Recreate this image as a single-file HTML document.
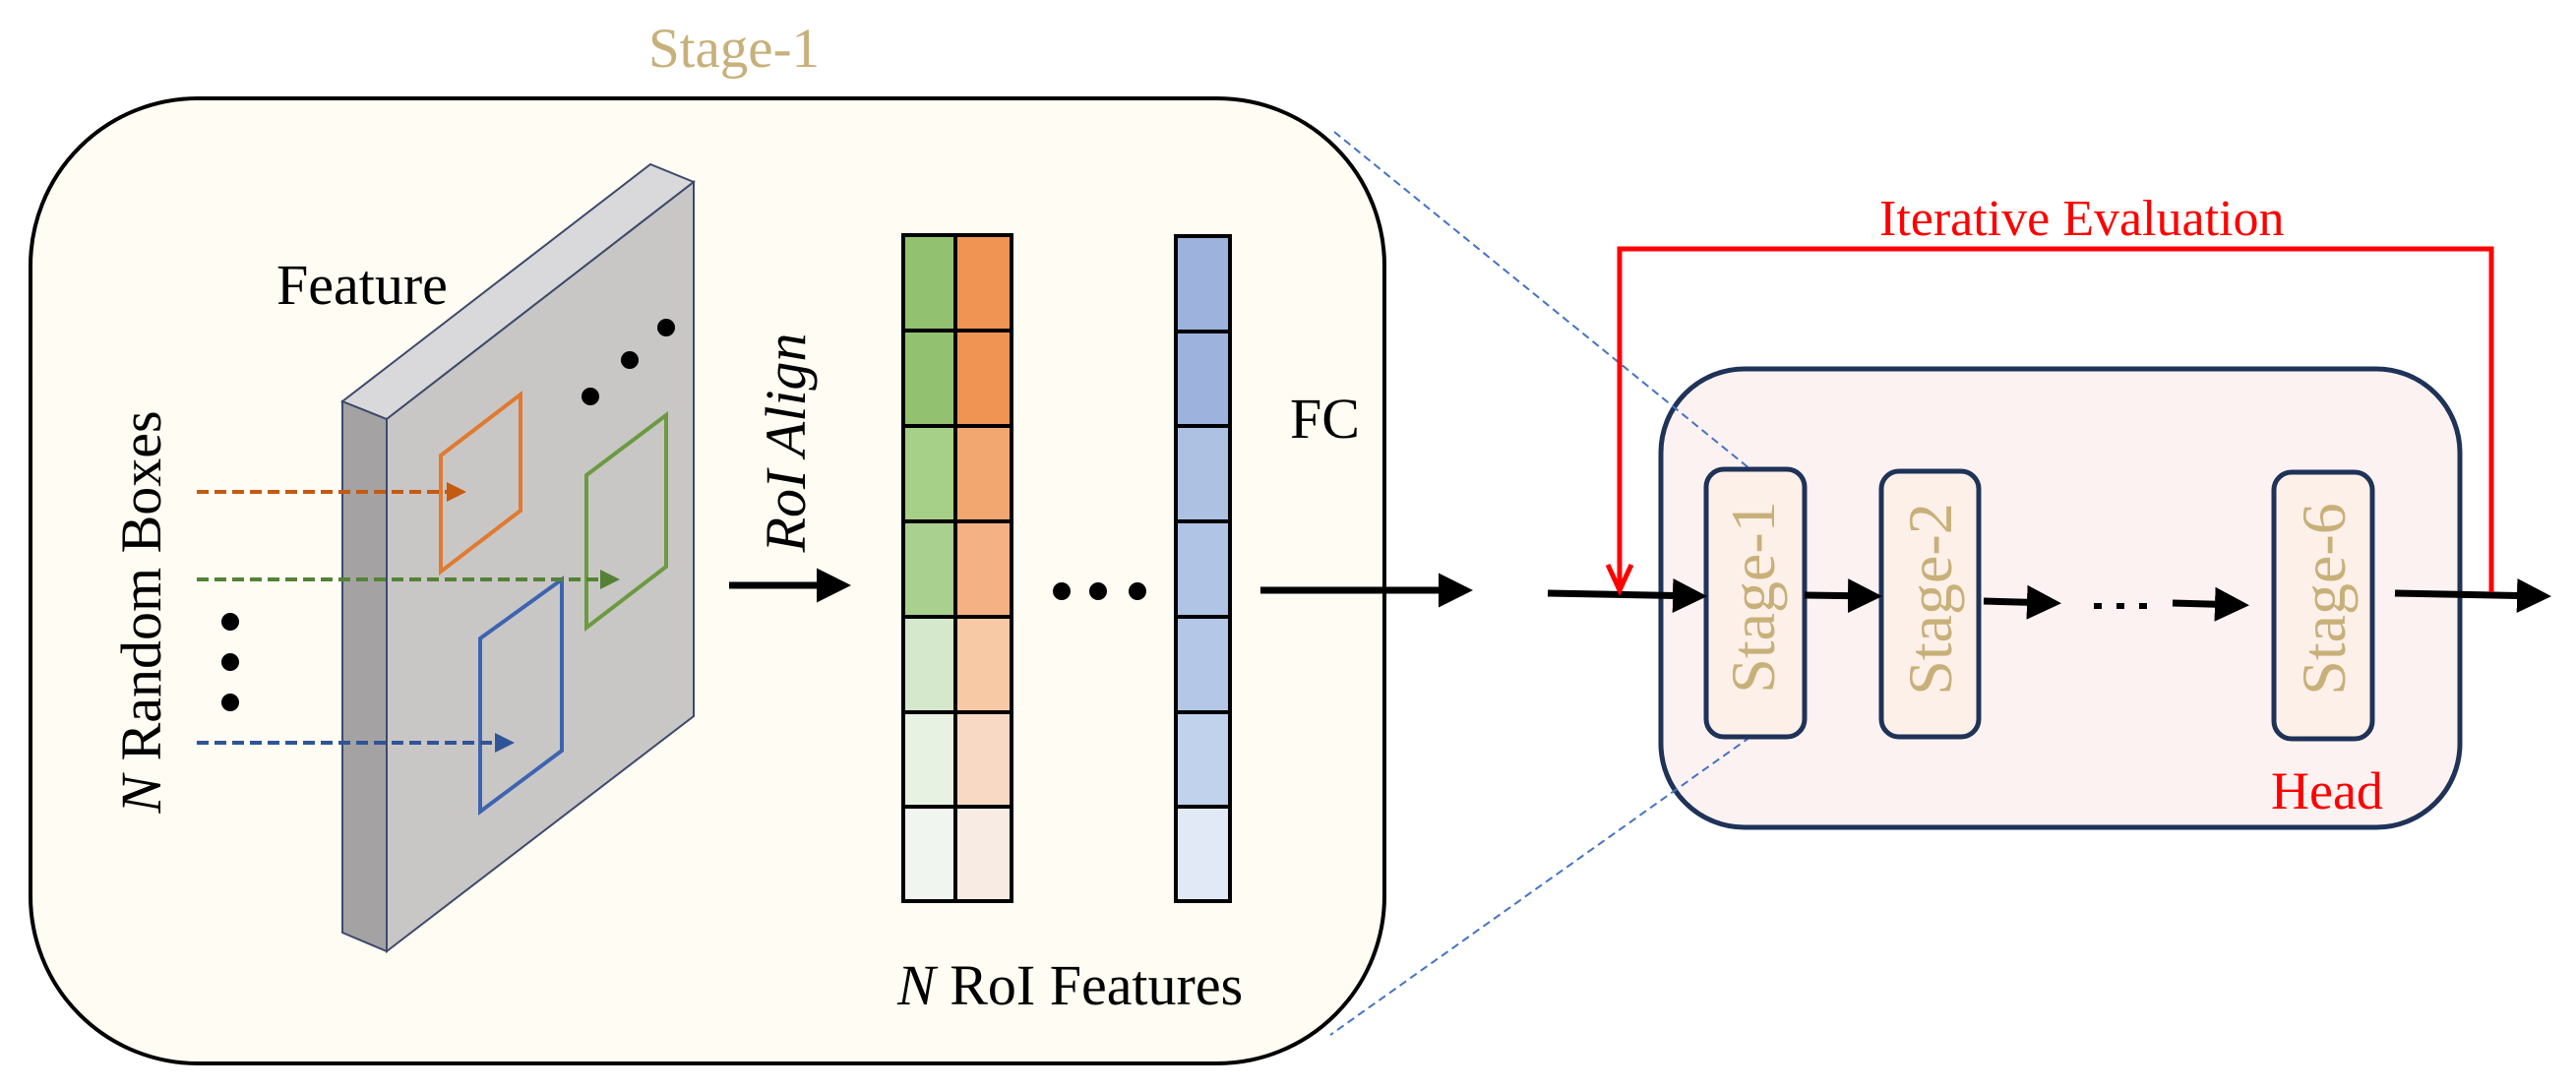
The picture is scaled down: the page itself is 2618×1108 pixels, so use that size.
<!DOCTYPE html>
<html><head><meta charset="utf-8"><style>html,body{margin:0;padding:0;background:#fff}svg{display:block}text{font-family:"Liberation Serif",serif}</style></head><body>
<svg width="2618" height="1108" viewBox="0 0 2618 1108" xmlns="http://www.w3.org/2000/svg">
<defs>
<marker id="ab" markerWidth="5" markerHeight="5" refX="4" refY="2.5" orient="auto" markerUnits="strokeWidth"><path d="M0,0 L5,2.5 L0,5 Z" fill="#000"/></marker>
<marker id="ao" markerWidth="5" markerHeight="5" refX="4" refY="2.5" orient="auto" markerUnits="strokeWidth"><path d="M0,0 L5,2.5 L0,5 Z" fill="#c55a11"/></marker>
<marker id="ag" markerWidth="5" markerHeight="5" refX="4" refY="2.5" orient="auto" markerUnits="strokeWidth"><path d="M0,0 L5,2.5 L0,5 Z" fill="#548235"/></marker>
<marker id="abl" markerWidth="5" markerHeight="5" refX="4" refY="2.5" orient="auto" markerUnits="strokeWidth"><path d="M0,0 L5,2.5 L0,5 Z" fill="#2f5597"/></marker>
</defs>
<text x="746" y="68" font-size="57" fill="#c8b07a" text-anchor="middle">Stage-1</text>
<rect x="31" y="100" width="1376" height="981" rx="170" ry="170" fill="#fefcf3" stroke="#000" stroke-width="4"/>
<polygon points="348,408 393,426 393,967 348,948" fill="#a5a2a3" stroke="#3b4a6b" stroke-width="2"/>
<polygon points="348,408 661,167 705,185 393,426" fill="#d9d8da" stroke="#3b4a6b" stroke-width="2"/>
<polygon points="393,426 705,185 705,728 393,967" fill="#c9c6c6" stroke="#3b4a6b" stroke-width="2"/>
<text x="281" y="309" font-size="58">Feature</text>
<circle cx="600" cy="403" r="9"/><circle cx="640" cy="366" r="9"/><circle cx="677" cy="333" r="9"/>
<polygon points="448,463 529,401 529,519 448,581" fill="none" stroke="#e07a30" stroke-width="4"/>
<polygon points="596,483 677,422 677,576 596,638" fill="none" stroke="#6b9a40" stroke-width="4"/>
<polygon points="488,649 571,589 571,763 488,825" fill="none" stroke="#3d64b0" stroke-width="4"/>
<line x1="200" y1="500" x2="470" y2="500" stroke="#c55a11" stroke-width="4" stroke-dasharray="12 6" marker-end="url(#ao)"/>
<line x1="200" y1="589" x2="626" y2="589" stroke="#548235" stroke-width="4" stroke-dasharray="12 6" marker-end="url(#ag)"/>
<line x1="200" y1="755" x2="519" y2="755" stroke="#2f5597" stroke-width="4" stroke-dasharray="12 6" marker-end="url(#abl)"/>
<circle cx="234" cy="632" r="9"/><circle cx="234" cy="673" r="9"/><circle cx="234" cy="714" r="9"/>
<text transform="translate(163,622) rotate(-90)" font-size="58" text-anchor="middle"><tspan font-style="italic">N</tspan> Random Boxes</text>
<line x1="741" y1="595" x2="858" y2="595" stroke="#000" stroke-width="7" marker-end="url(#ab)"/>
<text transform="translate(818,450) rotate(-90)" font-size="58" font-style="italic" text-anchor="middle">RoI Align</text>
<g stroke="#000" stroke-width="4">
<rect x="918" y="239" width="53" height="97" fill="#92c26f"/><rect x="971" y="239" width="57" height="97" fill="#f09454"/>
<rect x="918" y="336" width="53" height="97" fill="#92c26f"/><rect x="971" y="336" width="57" height="97" fill="#f09454"/>
<rect x="918" y="433" width="53" height="97" fill="#a6cf88"/><rect x="971" y="433" width="57" height="97" fill="#f2a771"/>
<rect x="918" y="530" width="53" height="97" fill="#a9d08e"/><rect x="971" y="530" width="57" height="97" fill="#f4b183"/>
<rect x="918" y="627" width="53" height="97" fill="#d5e8cc"/><rect x="971" y="627" width="57" height="97" fill="#f7c9a5"/>
<rect x="918" y="724" width="53" height="96" fill="#e8f2e2"/><rect x="971" y="724" width="57" height="96" fill="#f8dac4"/>
<rect x="918" y="820" width="53" height="96" fill="#f1f5f0"/><rect x="971" y="820" width="57" height="96" fill="#f7ebe3"/>
<rect x="1195" y="240" width="55" height="97" fill="#9db3de"/>
<rect x="1195" y="337" width="55" height="96" fill="#9db3de"/>
<rect x="1195" y="433" width="55" height="97" fill="#adc2e3"/>
<rect x="1195" y="530" width="55" height="97" fill="#b0c4e5"/>
<rect x="1195" y="627" width="55" height="97" fill="#b4c7e7"/>
<rect x="1195" y="724" width="55" height="96" fill="#c1d2ec"/>
<rect x="1195" y="820" width="55" height="96" fill="#e1e9f6"/>
</g>
<circle cx="1079" cy="601" r="9"/><circle cx="1116" cy="601" r="9"/><circle cx="1156" cy="601" r="9"/>
<text x="912" y="1021" font-size="58"><tspan font-style="italic">N</tspan> RoI Features</text>
<text x="1311" y="445" font-size="58">FC</text>
<line x1="1281" y1="600" x2="1490" y2="600" stroke="#000" stroke-width="7" marker-end="url(#ab)"/>
<rect x="1688" y="375" width="812" height="466" rx="85" ry="85" fill="#fdf2f2" stroke="#1f3358" stroke-width="5"/>
<line x1="1356" y1="134" x2="1779" y2="477" stroke="#4472c4" stroke-width="2" stroke-dasharray="8 5"/>
<line x1="1779" y1="749" x2="1352" y2="1052" stroke="#4472c4" stroke-width="2" stroke-dasharray="8 5"/>
<g stroke="#1f3358" stroke-width="5" fill="#fdf0e8">
<rect x="1734" y="477" width="100" height="272" rx="18"/>
<rect x="1912" y="479" width="99" height="270" rx="18"/>
<rect x="2311" y="480" width="100" height="271" rx="18"/>
</g>
<g font-size="64" fill="#c8b07a" text-anchor="middle">
<text transform="translate(1803,607) rotate(-90)">Stage-1</text>
<text transform="translate(1983,609) rotate(-90)">Stage-2</text>
<text transform="translate(2383,609) rotate(-90)">Stage-6</text>
</g>
<g stroke="#000" stroke-width="7">
<line x1="1573" y1="603" x2="1728" y2="606" marker-end="url(#ab)"/>
<line x1="1834" y1="605" x2="1906" y2="606" marker-end="url(#ab)"/>
<line x1="2016" y1="611" x2="2088" y2="613" marker-end="url(#ab)"/>
<line x1="2208" y1="613" x2="2279" y2="615" marker-end="url(#ab)"/>
<line x1="2434" y1="603" x2="2586" y2="606" marker-end="url(#ab)"/>
</g>
<g stroke="#000" stroke-width="6"><line x1="2128" y1="616" x2="2136" y2="616"/><line x1="2151" y1="616" x2="2159" y2="616"/><line x1="2174" y1="616" x2="2182" y2="616"/></g>
<polyline points="1646,598 1646,253 2532,253 2532,602" fill="none" stroke="#ff0000" stroke-width="5"/>
<polyline points="1634,574 1646,600 1658,574" fill="none" stroke="#ff0000" stroke-width="5"/>
<text x="1910" y="239" font-size="52" fill="#ff0000">Iterative Evaluation</text>
<text x="2308" y="822" font-size="54" fill="#ff0000">Head</text>
</svg>
</body></html>
